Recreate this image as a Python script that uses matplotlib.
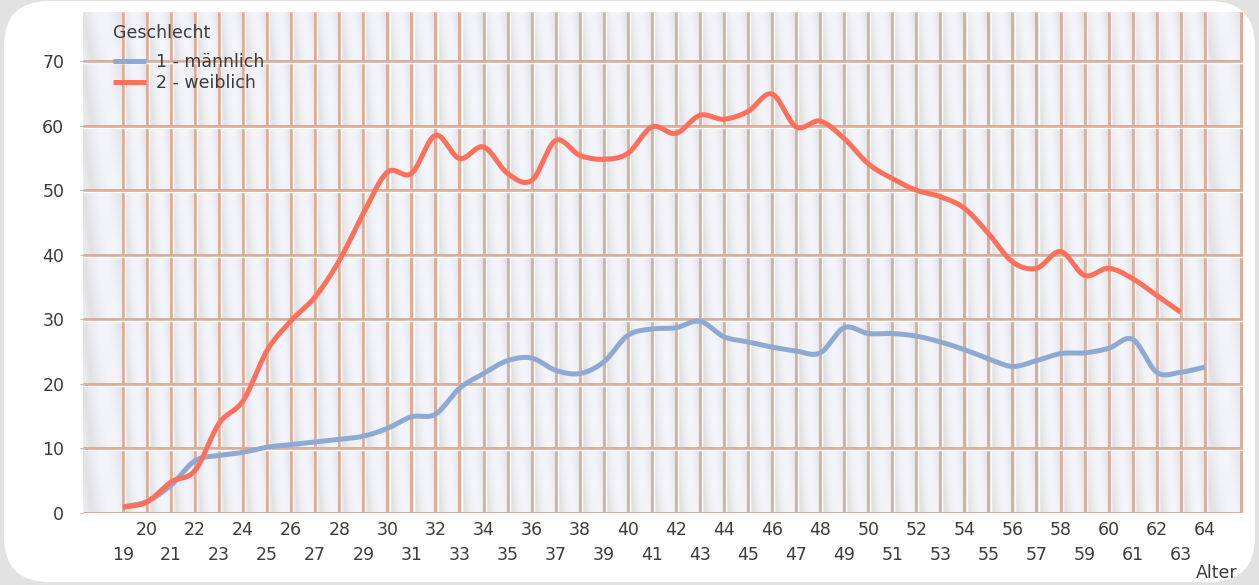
""" Geschlecht nach Alter - smoothed line chart """
import numpy as np
import matplotlib
matplotlib.use("Agg")
import matplotlib.pyplot as plt
from matplotlib.patches import FancyBboxPatch

# data
ages_m = list(range(19, 65))
maennlich = [0.9, 1.8, 4.3, 8.1, 8.9, 9.4, 10.2, 10.6, 11.0, 11.4, 11.9, 13.1,
             14.9, 15.3, 19.3, 21.6, 23.6, 24.0, 22.1, 21.6, 23.4, 27.5, 28.5,
             28.7, 29.7, 27.3, 26.5, 25.7, 25.1, 24.8, 28.7, 27.8, 27.8, 27.4,
             26.5, 25.3, 23.9, 22.7, 23.6, 24.7, 24.8, 25.5, 26.9, 21.8, 21.8, 22.6]
ages_w = list(range(19, 64))
weiblich = [0.9, 1.7, 4.8, 6.6, 13.9, 17.4, 25.2, 29.8, 33.5, 39.1, 46.4, 52.8,
            52.6, 58.5, 54.9, 56.7, 52.6, 51.5, 57.7, 55.4, 54.8, 55.7, 59.8,
            58.8, 61.6, 61.0, 62.2, 64.9, 59.8, 60.7, 58.0, 54.1, 51.8, 50.0,
            49.0, 47.2, 43.3, 38.9, 37.9, 40.5, 36.8, 37.9, 36.3, 33.7, 31.1]
labels = ["1 - männlich", "2 - weiblich"]
yticks = list(range(0, 80, 10))

RED = "#ff705c"
BLUE = "#8eaad2"
BROWN = "#dbac97"
TXT = "#3c3c3c"


def smooth(x, y, n=20):
    # catmull-rom curve through the points (only for drawing)
    x = np.asarray(x, float)
    y = np.asarray(y, float)
    mx = np.gradient(x)
    my = np.gradient(y)
    xs, ys = [], []
    t = np.linspace(0, 1, n, endpoint=False)
    h00 = 2 * t**3 - 3 * t**2 + 1
    h10 = t**3 - 2 * t**2 + t
    h01 = -2 * t**3 + 3 * t**2
    h11 = t**3 - t**2
    for i in range(len(x) - 1):
        xs.append(h00 * x[i] + h10 * mx[i] + h01 * x[i + 1] + h11 * mx[i + 1])
        ys.append(h00 * y[i] + h10 * my[i] + h01 * y[i + 1] + h11 * my[i + 1])
    xs.append([x[-1]])
    ys.append([y[-1]])
    return np.concatenate(xs), np.concatenate(ys)


fig = plt.figure(figsize=(12.59, 5.85), dpi=100)
fig.patch.set_facecolor("#e2e2e2")
fig.patches.append(FancyBboxPatch((0.04, 0.03), 12.51, 5.81,
                                  boxstyle="round,pad=0,rounding_size=0.45",
                                  transform=fig.dpi_scale_trans,
                                  facecolor="white", edgecolor="none", zorder=-10))

ax = fig.add_axes([83 / 1259, 1 - 513 / 585, 1160 / 1259, 501 / 585])
x0, x1 = 17.34, 65.59
ytop = 77.6
ax.set_xlim(x0, x1)
ax.set_ylim(0, ytop)
ax.patch.set_alpha(0)

# glossy brick cells
xb = np.concatenate([[x0], np.arange(19, 65), [x1]])
yb = np.concatenate([np.arange(0, 80, 10), [ytop]])
gx = np.linspace(x0, x1, 1400)
gy = np.linspace(0, ytop, 520)
ix = np.clip(np.searchsorted(xb, gx, side="right") - 1, 0, len(xb) - 2)
iy = np.clip(np.searchsorted(yb, gy, side="right") - 1, 0, len(yb) - 2)
px = (gx - xb[ix]) / (xb[ix + 1] - xb[ix])
py = (gy - yb[iy]) / (yb[iy + 1] - yb[iy])
PX, PY = np.meshgrid(px, py)
t = 0.5 + 0.5 * np.cos(2 * np.pi * (PX - 0.6 + 0.25 * (PY - 0.5)))
t = t ** 0.5
grey = np.array([225, 225, 227]) / 255
white = np.array([243, 245, 250]) / 255
img = grey + t[..., None] * (white - grey)
ax.imshow(img, extent=(x0, x1, 0, ytop), origin="lower", aspect="auto",
          interpolation="bilinear", zorder=0)

vx = list(range(19, 65)) + [x1 - 0.1]
ax.vlines(vx, 0, ytop, color=BROWN, lw=2.1, zorder=1)
ax.vlines([v + 0.09 for v in vx[:-1]], 0, ytop, color="white", lw=1.0, zorder=1)
ax.hlines(yticks, x0, x1, color=BROWN, lw=2.1, zorder=1)
ax.hlines([v - 0.3 for v in yticks[1:]], x0, x1, color="white", lw=1.0, zorder=1)

sx, sy = smooth(ages_m, maennlich)
ax.plot(sx, sy, color=BLUE, lw=3.6, solid_capstyle="butt", zorder=3, label=labels[0])
sx, sy = smooth(ages_w, weiblich)
ax.plot(sx, sy, color=RED, lw=3.6, solid_capstyle="butt", zorder=4, label=labels[1])

for s in ax.spines.values():
    s.set_visible(False)

ax.set_yticks(yticks)
ax.set_yticklabels([str(v) for v in yticks])
ax.tick_params(axis="y", length=2.5, color="#bbbbbb", pad=11, labelsize=12.5,
               labelcolor=TXT)
even = [a for a in ages_m if a % 2 == 0]
odd = [a for a in ages_m if a % 2 == 1]
ax.set_xticks(even)
ax.set_xticklabels([str(a) for a in even])
ax.set_xticks(odd, minor=True)
ax.set_xticklabels([str(a) for a in odd], minor=True)
ax.tick_params(axis="x", which="major", length=0, pad=6, labelsize=12.5, labelcolor=TXT)
ax.tick_params(axis="x", which="minor", length=0, pad=24, labelsize=12.5, labelcolor=TXT)
fig.text(1237 / 1259, 1 - 573 / 585, "Alter", ha="right", va="center",
         fontsize=12.5, color=TXT)

# legend title placed on its own, entries below it
fig.text(113 / 1259, 1 - 33 / 585, "Geschlecht", ha="left", va="center",
         fontsize=12.5, color=TXT, zorder=6)
leg = ax.legend(loc="upper left",
                bbox_to_anchor=(113 / 1259, 1 - 53 / 585),
                bbox_transform=fig.transFigure, frameon=False, fontsize=12.5,
                borderpad=0, borderaxespad=0, labelspacing=0.2,
                handlelength=1.9, handletextpad=0.55)
for txt in leg.get_texts():
    txt.set_color(TXT)
leg.set_zorder(5)

fig.savefig("out.png", dpi=100, facecolor=fig.get_facecolor())
